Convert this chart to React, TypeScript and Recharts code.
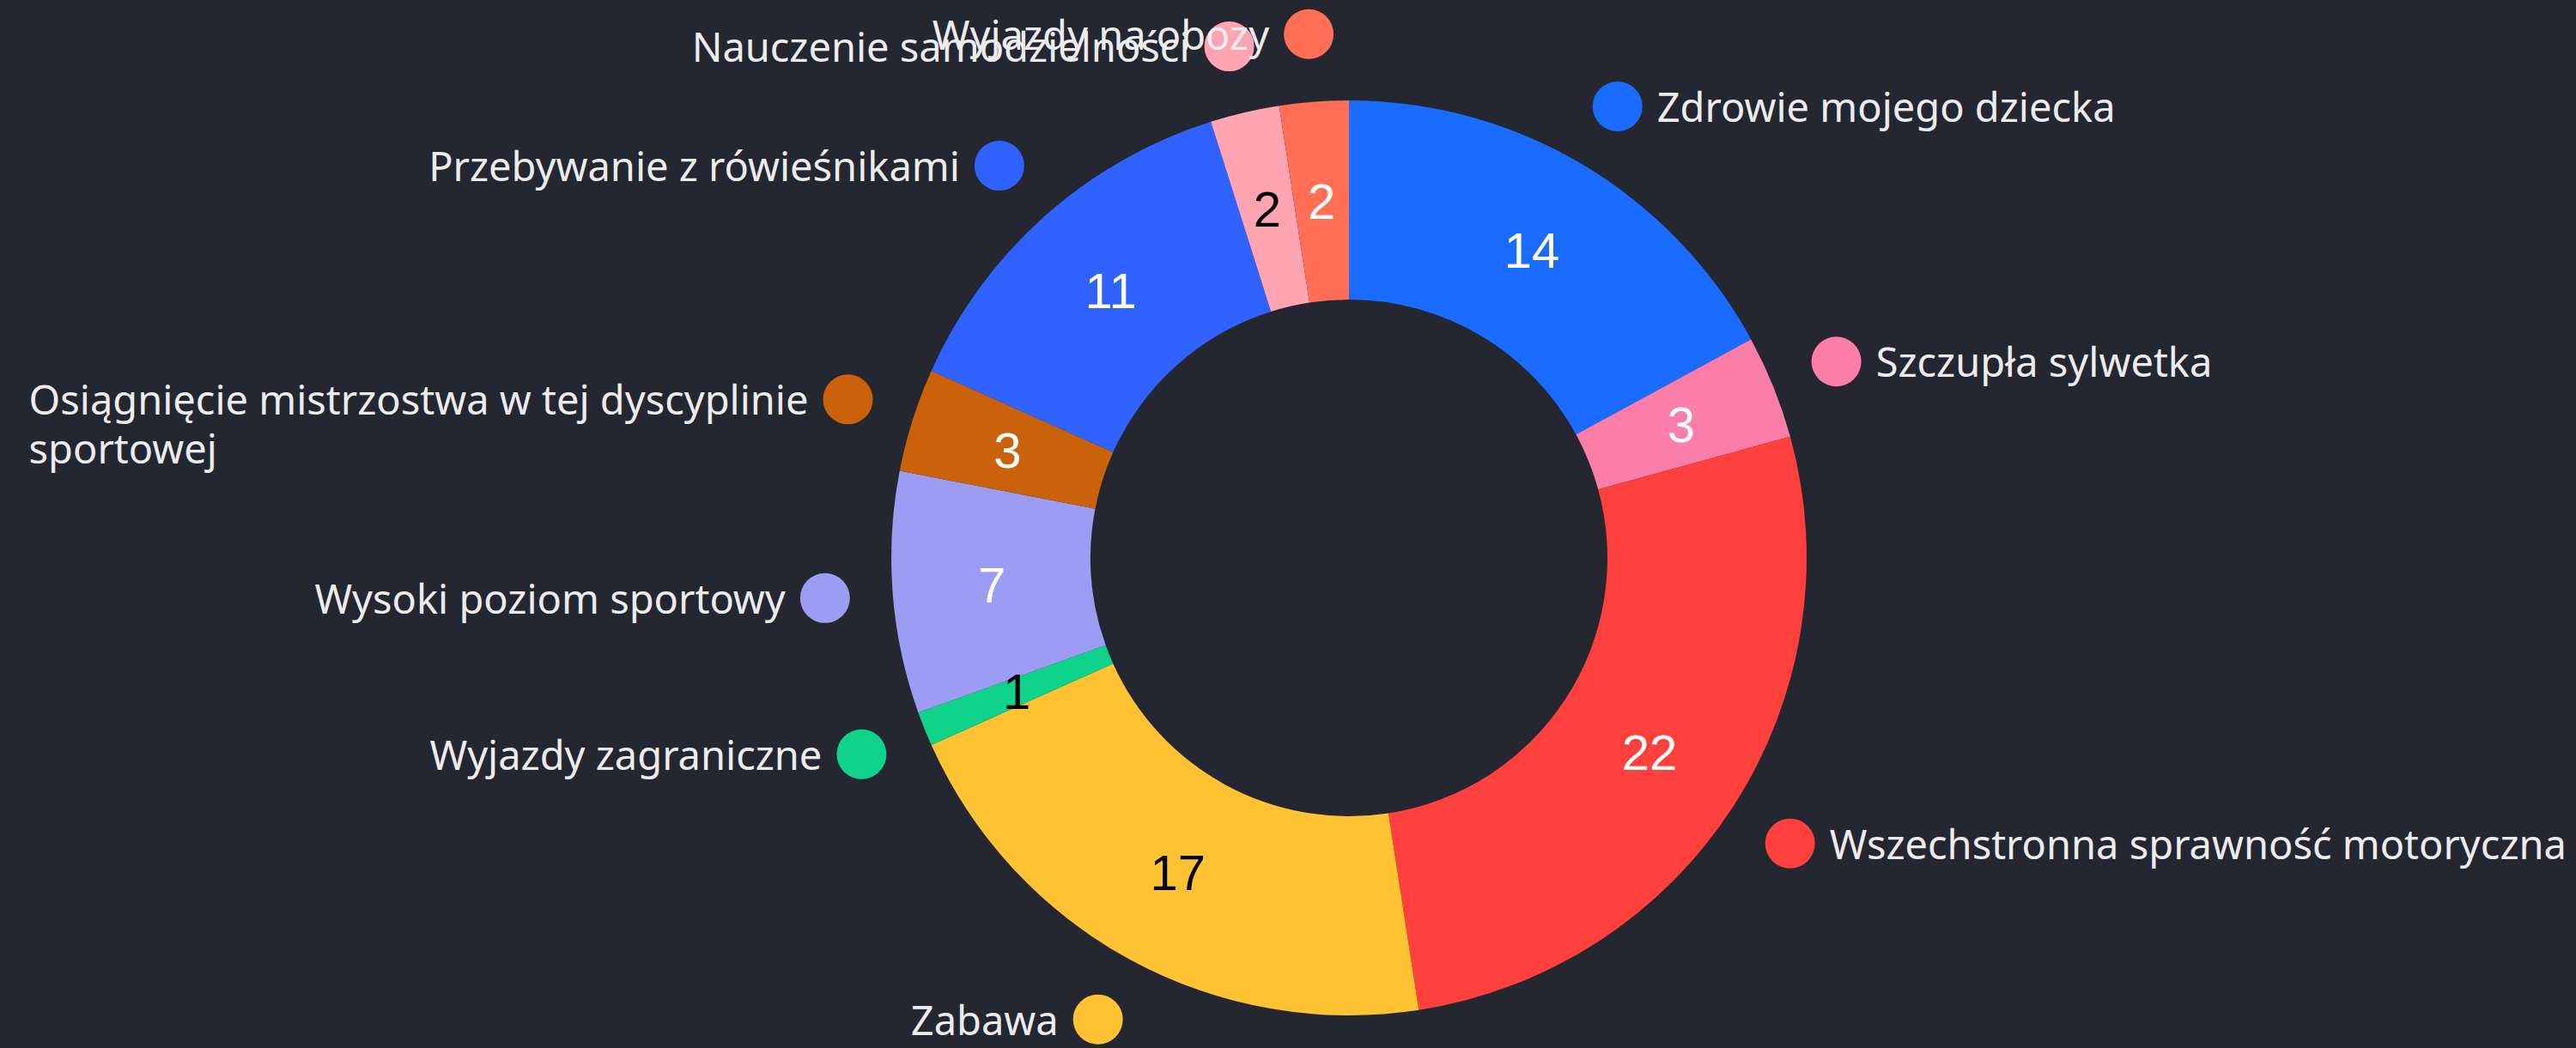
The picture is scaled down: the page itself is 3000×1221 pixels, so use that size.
import { Cell, Pie, PieChart } from "recharts";

const CATEGORIES = [
  "Zdrowie mojego dziecka",
  "Szczupła sylwetka",
  "Wszechstronna sprawność motoryczna",
  "Zabawa",
  "Wyjazdy zagraniczne",
  "Wysoki poziom sportowy",
  "Osiągnięcie mistrzostwa w tej dyscyplinie sportowej",
  "Przebywanie z rówieśnikami",
  "Nauczenie samodzielności",
  "Wyjazdy na obozy",
];

const VALUES = [14, 3, 22, 17, 1, 7, 3, 11, 2, 2];

const COLORS = [
  "#1a6bff",
  "#fb7ea8",
  "#ff403c",
  "#ffc233",
  "#10d38b",
  "#9b9cf2",
  "#c9620b",
  "#3062ff",
  "#ffa4b2",
  "#ff6e55",
];

// slices whose number reads in black
const DARK_VALUE_LABELS = ["Zabawa", "Wyjazdy zagraniczne", "Nauczenie samodzielności"];

const BG = "#242730";
const TEXT_FONT = '"Noto Sans", sans-serif';
const TEXT_SIZE = 47;
const LINE_HEIGHT = 57;
const WIDTH = 3000;
const HEIGHT = 1221;
const RAD = Math.PI / 180;

const data = CATEGORIES.map((name, i) => ({ name, value: VALUES[i] }));

let ctx: CanvasRenderingContext2D | null = null;
function measure(text: string) {
  if (!ctx) ctx = document.createElement("canvas").getContext("2d");
  if (!ctx) return text.length * TEXT_SIZE * 0.52;
  ctx.font = `${TEXT_SIZE}px ${TEXT_FONT}`;
  return ctx.measureText(text).width;
}

function wrap(text: string, maxWidth: number) {
  const words = text.split(" ");
  const lines: string[] = [];
  let cur = "";
  words.forEach((w) => {
    const next = cur ? `${cur} ${w}` : w;
    if (cur && measure(next) > maxWidth) {
      lines.push(cur);
      cur = w;
    } else {
      cur = next;
    }
  });
  if (cur) lines.push(cur);
  return lines;
}

function renderLabel(props: any) {
  const { cx, cy, midAngle, innerRadius, outerRadius, index, value, name } = props;
  const cos = Math.cos(-midAngle * RAD);
  const sin = Math.sin(-midAngle * RAD);

  const mr = (innerRadius + outerRadius) / 2;
  const vx = cx + mr * cos;
  const vy = cy + mr * sin;

  const dr = outerRadius + 79;
  const dotX = cx + dr * cos;
  const dotY = cy + dr * sin;
  const dotR = 29;
  const gap = 17;
  const right = cos >= 0;

  const anchorX = right ? dotX + dotR + gap : dotX - dotR - gap;
  const maxW = right ? WIDTH - 10 - anchorX : anchorX - 12;
  const lines = wrap(String(name), maxW);
  const blockW = Math.max(...lines.map(measure));
  const textX = right ? anchorX : anchorX - blockW;

  return (
    <g key={`lbl-${index}`}>
      <text
        x={vx}
        y={vy}
        fill={DARK_VALUE_LABELS.includes(name) ? "#000000" : "#ffffff"}
        textAnchor="middle"
        dominantBaseline="central"
        fontFamily='"Liberation Sans", Arial, sans-serif'
        fontSize={58}
      >
        {value}
      </text>
      <circle cx={dotX} cy={dotY} r={dotR} fill={COLORS[index % COLORS.length]} />
      <text
        x={textX}
        y={dotY}
        fill="#ececee"
        fontFamily={TEXT_FONT}
        fontSize={TEXT_SIZE}
        dominantBaseline="central"
        textAnchor="start"
      >
        {lines.map((line, i) => (
          <tspan key={i} x={textX} y={dotY + i * LINE_HEIGHT}>
            {line}
          </tspan>
        ))}
      </text>
    </g>
  );
}

export default function App() {
  return (
    <div
      style={{
        position: "absolute",
        left: 0,
        top: 0,
        width: WIDTH,
        height: HEIGHT,
        background: BG,
      }}
    >
      <PieChart width={WIDTH} height={HEIGHT} margin={{ top: 0, right: 0, bottom: 0, left: 0 }}>
        <Pie
          data={data}
          dataKey="value"
          nameKey="name"
          cx={1571}
          cy={650}
          innerRadius={301}
          outerRadius={533}
          startAngle={90}
          endAngle={-270}
          stroke="none"
          label={renderLabel}
          labelLine={false}
          isAnimationActive={false}
        >
          {data.map((d, i) => (
            <Cell key={d.name} fill={COLORS[i % COLORS.length]} />
          ))}
        </Pie>
      </PieChart>
    </div>
  );
}
